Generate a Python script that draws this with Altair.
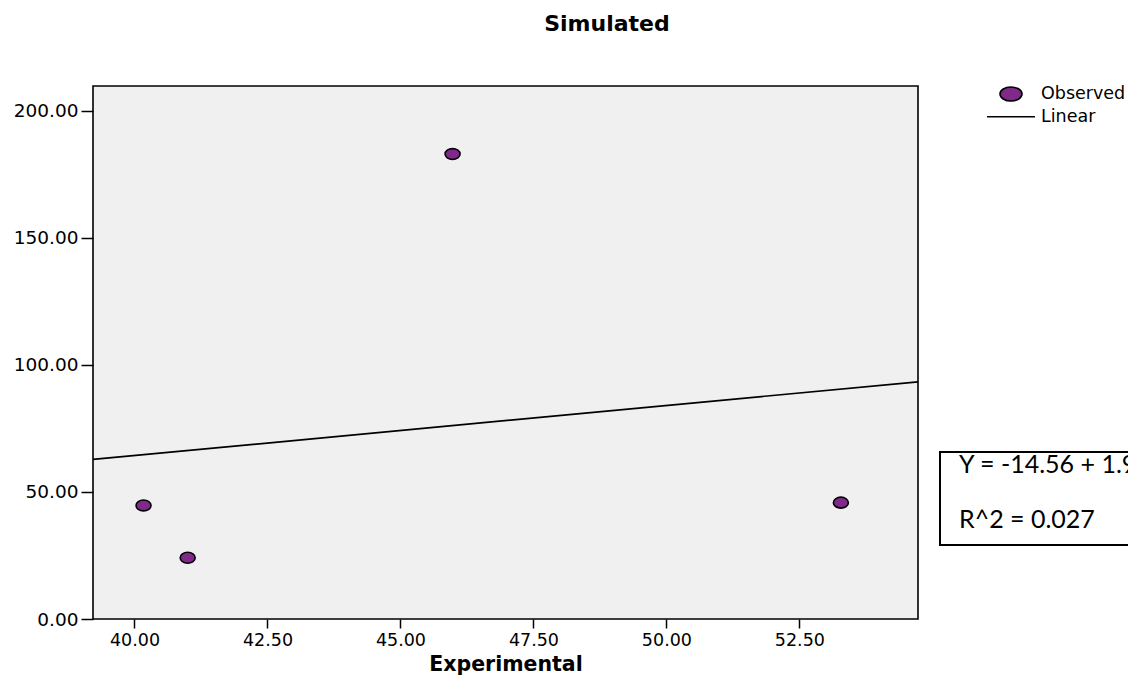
import altair as alt
import pandas as pd

# ---- data ----
experimental = [40.17, 41.00, 45.98, 53.28]
simulated = [44.7, 24.1, 183.0, 45.8]
x_domain = [39.22, 54.73]
y_domain = [0, 209.8]
x_ticks = [40.0, 42.5, 45.0, 47.5, 50.0, 52.5]
y_ticks = [0, 50, 100, 150, 200]
chart_title = "Simulated"
legend_labels = ["Observed", "Linear"]
fit_lines = ["Y = -14.56 + 1.97 * x", "R^2 = 0.027"]

df = pd.DataFrame({"Experimental": experimental, "Simulated": simulated})
one = pd.DataFrame({"k": [0]})

W, H = 825, 533
PURPLE = "#80298A"
ellipse_pt = "M-1,0A1,0.73,0,1,1,1,0A1,0.73,0,1,1,-1,0Z"
ellipse_leg = "M-1,0A1,0.64,0,1,1,1,0A1,0.64,0,1,1,-1,0Z"
FONT = "DejaVu Sans"

x_enc = alt.X(
    "Experimental:Q",
    scale=alt.Scale(domain=x_domain, nice=False, zero=False),
    axis=alt.Axis(
        values=x_ticks, format=".2f", title="Experimental",
        titleFont=FONT, titleFontSize=20.5, titleFontWeight="bold", titleColor="black",
        titleBaseline="alphabetic", titleY=51.8,
        labelFont=FONT, labelFontSize=17.5, labelColor="black", labelPadding=3,
        labelFlush=False, labelOverlap=False,
        tickSize=9, tickColor="black", tickWidth=1.5,
        domain=False, grid=False,
    ),
)
y_enc = alt.Y(
    "Simulated:Q",
    scale=alt.Scale(domain=y_domain, nice=False, zero=False),
    axis=alt.Axis(
        values=y_ticks, format=".2f", title=None,
        labelFont=FONT, labelFontSize=18.5, labelColor="black", labelPadding=3,
        labelFlush=False, labelOverlap=False,
        tickSize=12, tickColor="black", tickWidth=1.5,
        domain=False, grid=False,
    ),
)

base = alt.Chart(df)

fit = base.transform_regression(
    "Experimental", "Simulated", extent=x_domain
).mark_line(color="black", strokeWidth=1.7).encode(x=x_enc, y=y_enc)

points = base.mark_point(
    shape=ellipse_pt, size=225, filled=True, fill=PURPLE, fillOpacity=1,
    stroke="black", strokeWidth=1.6, strokeOpacity=1, opacity=1,
).encode(x=x_enc, y=y_enc)

ann = alt.Chart(one)

# title
title_t = ann.mark_text(
    align="center", baseline="alphabetic", font=FONT, fontSize=22,
    fontWeight="bold", color="black",
).encode(x=alt.value(514), y=alt.value(-55.5), text=alt.value(chart_title))

# legend
leg_sym = ann.mark_point(
    shape=ellipse_leg, size=484, filled=True, fill=PURPLE, fillOpacity=1,
    stroke="black", strokeWidth=1.6, strokeOpacity=1, opacity=1,
).encode(x=alt.value(918), y=alt.value(8))
leg_line = ann.mark_rule(color="black", strokeWidth=1.6).encode(
    x=alt.value(894), x2=alt.value(942), y=alt.value(30.7)
)
leg_t1 = ann.mark_text(align="left", baseline="middle", font=FONT, fontSize=17.5, color="black").encode(
    x=alt.value(948), y=alt.value(8), text=alt.value(legend_labels[0])
)
leg_t2 = ann.mark_text(align="left", baseline="middle", font=FONT, fontSize=17.5, color="black").encode(
    x=alt.value(948), y=alt.value(30.7), text=alt.value(legend_labels[1])
)

# fit annotation box
box = ann.mark_rect(fill="white", stroke="black", strokeWidth=2).encode(
    x=alt.value(847), x2=alt.value(1140), y=alt.value(366), y2=alt.value(459)
)
fit_t1 = ann.mark_text(align="left", baseline="middle", font="Lato", fontSize=25, color="black").encode(
    x=alt.value(866), y=alt.value(379), text=alt.value(fit_lines[0])
)
fit_t2 = ann.mark_text(align="left", baseline="middle", font="Lato", fontSize=25, color="black").encode(
    x=alt.value(866), y=alt.value(434), text=alt.value(fit_lines[1])
)

chart = alt.layer(
    fit, points, title_t, leg_sym, leg_line, leg_t1, leg_t2, box, fit_t1, fit_t2
).properties(
    width=W,
    height=H,
    padding={"left": 85, "top": 78, "right": 210, "bottom": 56},
    autosize=alt.AutoSizeParams(type="none"),
    background="white",
).configure_view(
    fill="#F0F0F0", stroke="black", strokeWidth=1.6
)

chart.save("out.html", embed_options={"renderer": "svg", "actions": False})
